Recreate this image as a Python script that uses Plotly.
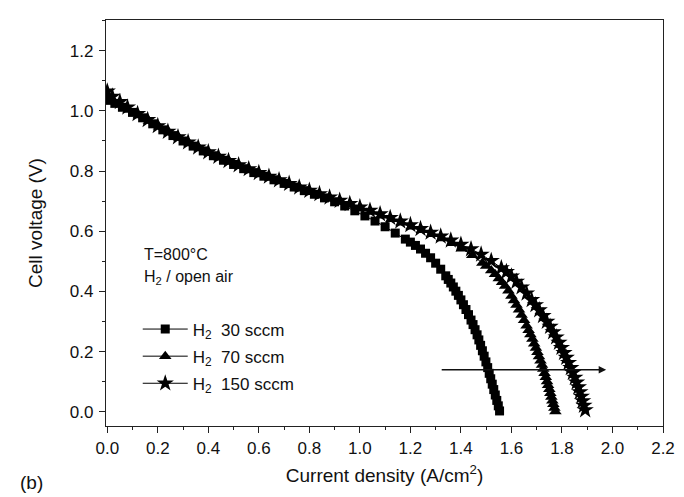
import plotly.graph_objects as go

# ---- data ----
x_30 = [0.00, 0.03, 0.06, 0.10, 0.14, 0.18, 0.22, 0.26, 0.30, 0.34, 0.38, 0.42, 0.46, 0.50,
        0.54, 0.58, 0.62, 0.66, 0.70, 0.74, 0.78, 0.82, 0.86, 0.90, 0.94, 0.98, 1.02, 1.06,
        1.10, 1.14, 1.18, 1.20, 1.22, 1.24, 1.26, 1.28, 1.30, 1.32, 1.34, 1.35, 1.36, 1.37,
        1.38, 1.39, 1.40, 1.41, 1.42, 1.43, 1.44, 1.448, 1.456, 1.464, 1.471, 1.478, 1.485,
        1.492, 1.499, 1.506, 1.512, 1.518, 1.524, 1.530, 1.536, 1.542, 1.548, 1.553]
v_30 = [1.035, 1.025, 1.012, 0.995, 0.977, 0.957, 0.937, 0.918, 0.900, 0.883, 0.867, 0.851,
        0.836, 0.822, 0.808, 0.795, 0.783, 0.771, 0.759, 0.747, 0.735, 0.723, 0.711, 0.698,
        0.684, 0.668, 0.651, 0.634, 0.615, 0.594, 0.574, 0.564, 0.553, 0.541, 0.527, 0.512,
        0.494, 0.474, 0.452, 0.440, 0.428, 0.415, 0.401, 0.387, 0.372, 0.356, 0.340, 0.323,
        0.305, 0.290, 0.273, 0.256, 0.239, 0.221, 0.203, 0.185, 0.166, 0.147, 0.128, 0.110,
        0.092, 0.074, 0.056, 0.038, 0.020, 0.003]

x_70 = [0.00, 0.045, 0.085, 0.125, 0.165, 0.205, 0.245, 0.285, 0.325, 0.365, 0.405, 0.445,
        0.485, 0.525, 0.565, 0.605, 0.645, 0.685, 0.725, 0.765, 0.805, 0.845, 0.885, 0.925,
        0.965, 1.005, 1.045, 1.085, 1.125, 1.165, 1.205, 1.245, 1.285, 1.325, 1.365, 1.405,
        1.445, 1.485, 1.50, 1.52, 1.535, 1.55, 1.563, 1.575, 1.588, 1.60, 1.61, 1.62, 1.63,
        1.64, 1.65, 1.66, 1.668, 1.675, 1.683, 1.69, 1.697, 1.703, 1.709, 1.715, 1.721, 1.726,
        1.731, 1.736, 1.741, 1.745, 1.750, 1.754, 1.758, 1.762, 1.766, 1.770, 1.774]
v_70 = [1.050, 1.022, 1.003, 0.985, 0.966, 0.947, 0.928, 0.910, 0.892, 0.875, 0.859, 0.844,
        0.830, 0.816, 0.802, 0.789, 0.777, 0.765, 0.753, 0.741, 0.730, 0.718, 0.707, 0.697,
        0.688, 0.676, 0.664, 0.652, 0.640, 0.628, 0.615, 0.603, 0.590, 0.576, 0.560, 0.542,
        0.520, 0.495, 0.485, 0.470, 0.457, 0.443, 0.431, 0.418, 0.402, 0.385, 0.370, 0.355,
        0.339, 0.322, 0.304, 0.286, 0.271, 0.257, 0.242, 0.226, 0.212, 0.198, 0.184, 0.170,
        0.156, 0.142, 0.128, 0.115, 0.101, 0.088, 0.075, 0.062, 0.049, 0.037, 0.025, 0.013,
        0.001]

x_150 = [0.00, 0.02, 0.05, 0.08, 0.12, 0.16, 0.20, 0.24, 0.28, 0.32, 0.36, 0.40, 0.44, 0.48,
         0.52, 0.56, 0.60, 0.64, 0.68, 0.72, 0.76, 0.80, 0.84, 0.88, 0.92, 0.96, 1.00, 1.04,
         1.08, 1.12, 1.16, 1.20, 1.24, 1.28, 1.32, 1.36, 1.40, 1.44, 1.48, 1.52, 1.56, 1.58,
         1.60, 1.62, 1.64, 1.66, 1.68, 1.695, 1.71, 1.725, 1.74, 1.753, 1.765, 1.777, 1.788,
         1.798, 1.808, 1.817, 1.826, 1.835, 1.843, 1.851, 1.858, 1.865, 1.871, 1.877, 1.882,
         1.887, 1.892]
v_150 = [1.065, 1.048, 1.030, 1.012, 0.990, 0.970, 0.950, 0.931, 0.913, 0.896, 0.879, 0.863,
         0.848, 0.834, 0.820, 0.807, 0.794, 0.782, 0.770, 0.758, 0.746, 0.735, 0.724, 0.713,
         0.702, 0.691, 0.680, 0.669, 0.657, 0.645, 0.633, 0.621, 0.608, 0.596, 0.583, 0.570,
         0.556, 0.541, 0.523, 0.502, 0.478, 0.465, 0.450, 0.433, 0.414, 0.394, 0.372, 0.355,
         0.338, 0.319, 0.300, 0.283, 0.265, 0.248, 0.230, 0.213, 0.196, 0.180, 0.163, 0.146,
         0.130, 0.114, 0.098, 0.082, 0.066, 0.051, 0.036, 0.021, 0.006]

series_names = ["H<sub>2</sub>  30 sccm", "H<sub>2</sub>  70 sccm", "H<sub>2</sub>  150 sccm"]
series_symbols = ["square", "triangle-up", "star"]
series_sizes = [9, 11, 13]

x_ticks = [0.0, 0.2, 0.4, 0.6, 0.8, 1.0, 1.2, 1.4, 1.6, 1.8, 2.0, 2.2]
y_ticks = [0.0, 0.2, 0.4, 0.6, 0.8, 1.0, 1.2]

arrow_y = 0.14
arrow_x_start = 1.318
arrow_x_end = 1.975

FONT = "Liberation Sans, Arial, sans-serif"

fig = go.Figure()
for xs, ys, name, sym, sz in zip([x_30, x_70, x_150], [v_30, v_70, v_150],
                                 series_names, series_symbols, series_sizes):
    fig.add_trace(go.Scatter(
        x=xs, y=ys, mode="lines+markers", name=name, legendgroup=name,
        line=dict(color="black", width=1),
        marker=dict(symbol=sym, size=sz, color="black", line=dict(width=0)),
    ))

axis_common = dict(
    showline=True, linecolor="#222", linewidth=1.3, mirror=True,
    ticks="outside", ticklen=6, tickwidth=1.3, tickcolor="#222",
    showgrid=False, zeroline=False, automargin=False,
    tickfont=dict(family=FONT, size=17, color="#111"),
)

fig.update_xaxes(
    range=[-0.005, 2.2], tickvals=x_ticks, ticktext=[f"{v:.1f}" for v in x_ticks],
    minor=dict(ticks="outside", ticklen=3, tickwidth=1.3, tickcolor="#222", dtick=0.1, tick0=0),
    title=dict(text="Current density (A/cm<sup>2</sup>)", font=dict(family=FONT, size=19, color="#111"),
               standoff=12),
    **axis_common,
)
fig.update_yaxes(
    range=[-0.047, 1.302], tickvals=y_ticks, ticktext=[f"{v:.1f}" for v in y_ticks],
    minor=dict(ticks="outside", ticklen=3, tickwidth=1.3, tickcolor="#222", dtick=0.1, tick0=0),
    title=dict(text="Cell voltage (V)", font=dict(family=FONT, size=19, color="#111"), standoff=22),
    ticklabelstandoff=2,
    **axis_common,
)

fig.add_annotation(x=arrow_x_end, y=arrow_y, ax=arrow_x_start, ay=arrow_y,
                   xref="x", yref="y", axref="x", ayref="y",
                   showarrow=True, arrowhead=2, arrowsize=1, arrowwidth=1.5,
                   arrowcolor="#111", text="")

fig.add_annotation(x=0.065, y=0.423, xref="paper", yref="paper", xanchor="left", yanchor="middle",
                   text="T=800°C", showarrow=False, font=dict(family=FONT, size=16, color="#111"))
fig.add_annotation(x=0.065, y=0.365, xref="paper", yref="paper", xanchor="left", yanchor="middle",
                   text="H<sub>2</sub> / open air", showarrow=False,
                   font=dict(family=FONT, size=16, color="#111"))
fig.add_annotation(x=-0.158, y=-0.14, xref="paper", yref="paper", xanchor="left", yanchor="middle",
                   text="(b)", showarrow=False, font=dict(family=FONT, size=19, color="#111"))

fig.update_layout(
    width=684, height=497,
    margin=dict(l=98, r=29, t=12, b=79),
    paper_bgcolor="white", plot_bgcolor="white",
    showlegend=True,
    legend=dict(x=0.057, y=0.282, xanchor="left", yanchor="top",
                bgcolor="rgba(0,0,0,0)", font=dict(family=FONT, size=17, color="#111"),
                tracegroupgap=2, itemsizing="trace", itemwidth=45),
)

fig.write_html("out.html")
